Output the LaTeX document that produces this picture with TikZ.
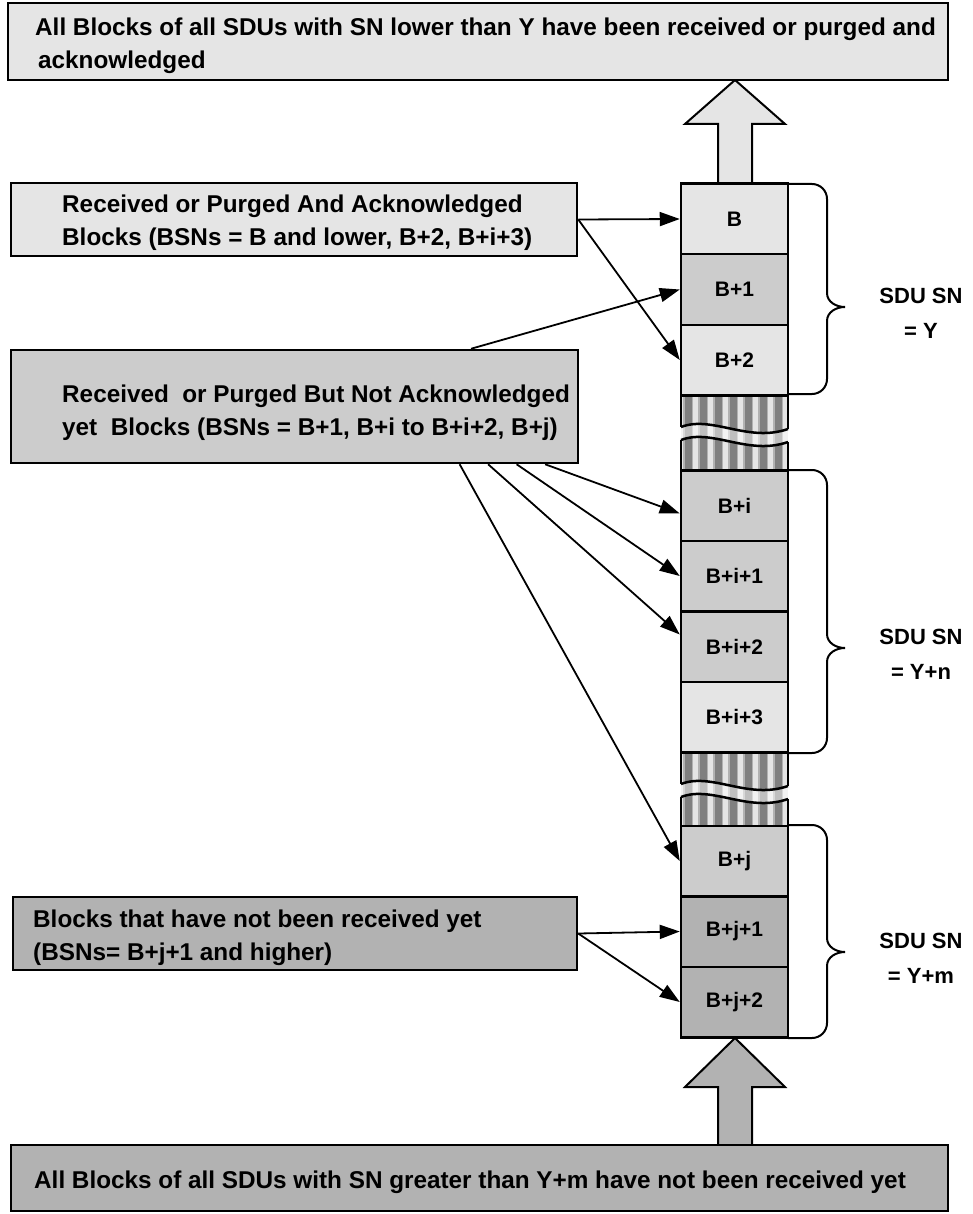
\documentclass[tikz,border=0pt]{standalone}
\usepackage{fontspec}
\setmainfont{Liberation Sans}
\usetikzlibrary{arrows.meta, calc}

\definecolor{lightfill}{gray}{0.9}
\definecolor{midfill}{gray}{0.8}
\definecolor{darkfill}{gray}{0.7}
\definecolor{stripe}{gray}{0.5}

\tikzset{
	boxframe/.style = {draw, line width = 2.5pt, inner sep = 0pt},
	boxtext/.style = {align = left, inner sep = 0pt, anchor = west, font = \fontsize{24.3}{33}\selectfont\bfseries},
	cell/.style = {draw, line width = 2.5pt, minimum width = 107, minimum height = 70.5, inner sep = 0pt, font = \fontsize{21}{25}\selectfont\bfseries},
	pointer/.style = {line width = 1.8pt, -{Triangle[length = 20pt, width = 14pt]}},
	brace/.style = {line width = 2pt},
	sdu/.style = {align = center, inner sep = 0pt, font = \fontsize{22}{35}\selectfont\bfseries},
	bigarrow/.style = {draw, line width = 2pt, line join = miter}
}

\begin{document}
\begin{tikzpicture}[x = 1pt, y = -1pt]
		\useasboundingbox (0, 0) rectangle (972, 1214);

		\draw[bigarrow, fill = lightfill] (718, 184) -- (718, 124) -- (685, 124) -- (735, 80) -- (785, 124) -- (752, 124) -- (752, 184) -- cycle;
		\draw[bigarrow, fill = darkfill] (718, 1145) -- (718, 1087) -- (685, 1087) -- (735, 1038) -- (785, 1087) -- (752, 1087) -- (752, 1145) -- cycle;

		\node[boxframe, fill = lightfill, minimum width = 940, minimum height = 77] (lowerSN) at (478, 41.5) {};
		\node[boxtext] (lowerSNText) at (35, 46) {All Blocks of all SDUs with SN lower than Y have been received or purged and\\\hspace*{3pt}acknowledged};

		\node[boxframe, fill = lightfill, minimum width = 566, minimum height = 73] (ackBox) at (294, 219.5) {};
		\node[boxtext] (ackText) at (62, 223) {Received or Purged And Acknowledged\\Blocks (BSNs = B and lower, B+2, B+i+3)};

		\node[boxframe, fill = midfill, minimum width = 567, minimum height = 113] (nackBox) at (294.5, 406.5) {};
		\node[boxtext] (nackText) at (62, 413) {Received~ or Purged But Not Acknowledged\\yet~ Blocks (BSNs = B+1, B+i to B+i+2, B+j)};

		\node[boxframe, fill = darkfill, minimum width = 564, minimum height = 73] (notRcvBox) at (295, 933.5) {};
		\node[boxtext] (notRcvText) at (33, 938) {Blocks that have not been received yet\\(BSNs= B+j+1 and higher)};

		\node[boxframe, fill = darkfill, minimum width = 937, minimum height = 66] (higherSN) at (479.5, 1178) {};
		\node[boxtext] (higherSNText) at (34, 1182) {All Blocks of all SDUs with SN greater than Y+m have not been received yet};

		\foreach \ya/\yb/\yw in {395/470/427, 752/826/784} {
			\fill[lightfill] (681, \ya) rectangle (788, \yb);
			\foreach \x in {688, 703, ..., 778} {
				\fill[darkfill] (\x - 5, \ya) rectangle (\x + 5, \yb);
				\fill[stripe] (\x - 3.5, \ya) rectangle (\x + 3.5, \yb);
			}
			\fill[white, opacity = 0.5] (681, \yw) .. controls (712, \yw - 12) and (748, \yw + 16) .. (788, \yw + 2) -- (788, \yw + 15) .. controls (748, \yw + 29) and (712, \yw + 1) .. (681, \yw + 13) -- cycle;
			\draw[line width = 2.5pt] (681, \yw) .. controls (712, \yw - 12) and (748, \yw + 16) .. (788, \yw + 2);
			\draw[line width = 2.5pt] (681, \yw + 13) .. controls (712, \yw + 1) and (748, \yw + 29) .. (788, \yw + 15);
			\draw[line width = 2.5pt] (681, \ya) -- (681, \yw) (681, \yw + 13) -- (681, \yb) (788, \ya) -- (788, \yw + 2) (788, \yw + 15) -- (788, \yb);
		}

		\node[cell, fill = lightfill] (bsnB) at (734.5, 219) {B};
		\node[cell, fill = midfill] (bsnB1) at (734.5, 289.5) {B+1};
		\node[cell, fill = lightfill] (bsnB2) at (734.5, 360) {B+2};
		\node[cell, fill = midfill] (bsnBi) at (734.5, 505.5) {B+i};
		\node[cell, fill = midfill] (bsnBi1) at (734.5, 576) {B+i+1};
		\node[cell, fill = midfill] (bsnBi2) at (734.5, 646.5) {B+i+2};
		\node[cell, fill = lightfill] (bsnBi3) at (734.5, 717) {B+i+3};
		\node[cell, fill = midfill] (bsnBj) at (734.5, 861) {B+j};
		\node[cell, fill = darkfill] (bsnBj1) at (734.5, 931.5) {B+j+1};
		\node[cell, fill = darkfill] (bsnBj2) at (734.5, 1002) {B+j+2};

		\draw[pointer] (ackBox.east) -- (bsnB.west);
		\draw[pointer] (ackBox.east) -- (bsnB2.west);
		\draw[pointer] ($(nackBox.north west)!0.81!(nackBox.north east)$) -- (bsnB1.west);
		\draw[pointer] ($(nackBox.south west)!0.94!(nackBox.south east)$) -- ([yshift = -8pt]bsnBi.west);
		\draw[pointer] ($(nackBox.south west)!0.89!(nackBox.south east)$) -- (bsnBi1.west);
		\draw[pointer] ($(nackBox.south west)!0.84!(nackBox.south east)$) -- ([yshift = 12pt]bsnBi2.west);
		\draw[pointer] ($(nackBox.south west)!0.79!(nackBox.south east)$) -- (bsnBj.west);
		\draw[pointer] (notRcvBox.east) -- (bsnBj1.west);
		\draw[pointer] (notRcvBox.east) -- (bsnBj2.west);

		\draw[brace] (788, 184) -- (812, 184) to[out = 0, in = 90] (827, 199) -- (827, 293) to[out = -90, in = 180] (845, 307) to[out = 180, in = 90] (827, 321) -- (827, 379) to[out = -90, in = 0] (812, 394) -- (788, 394);
		\draw[brace] (788, 470) -- (812, 470) to[out = 0, in = 90] (827, 485) -- (827, 634) to[out = -90, in = 180] (845, 648) to[out = 180, in = 90] (827, 662) -- (827, 738) to[out = -90, in = 0] (812, 753) -- (788, 753);
		\draw[brace] (788, 825) -- (812, 825) to[out = 0, in = 90] (827, 840) -- (827, 938) to[out = -90, in = 180] (845, 952) to[out = 180, in = 90] (827, 966) -- (827, 1023) to[out = -90, in = 0] (812, 1038) -- (788, 1038);

		\node[sdu] (sduY) at (921, 313) {SDU SN\\= Y};
		\node[sdu] (sduYn) at (921, 654) {SDU SN\\= Y+n};
		\node[sdu] (sduYm) at (921, 958) {SDU SN\\= Y+m};
	\end{tikzpicture}
\end{document}
